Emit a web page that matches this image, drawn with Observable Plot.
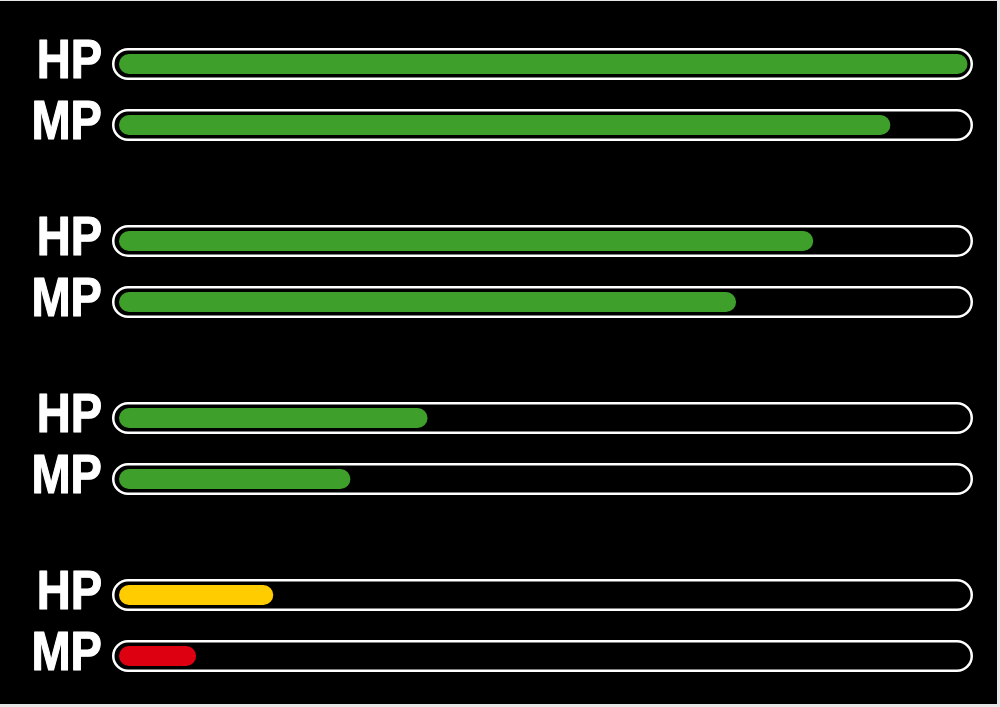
<!DOCTYPE html>
<html>
<head>
<meta charset="utf-8">
<script src="https://cdn.jsdelivr.net/npm/d3@7"></script>
<script src="https://cdn.jsdelivr.net/npm/@observablehq/plot@0.6"></script>
<style>
  html, body { margin: 0; padding: 0; background: #e6e6e6; }
  #chart { position: absolute; left: 0; top: 1px; width: 997px; height: 703px; background: #000; }
  #chart svg { display: block; }
</style>
</head>
<body>
<div id="chart"></div>
<script>
// ---- data ----
const groups = ["1", "2", "3", "4"];
const stats = ["HP", "MP"];
const hpValues = [11, 9, 4, 2];
const mpValues = [10, 8, 3, 1];
const hpStatus = ["ok", "ok", "ok", "warn"];
const mpStatus = ["ok", "ok", "ok", "critical"];
const maxValue = 11;

const statusDomain = ["ok", "warn", "critical"];
const statusColors = ["#3e9f2b", "#ffcc00", "#dc0010"];

const rows = [];
groups.forEach((g, i) => {
  rows.push({group: g, stat: "HP", value: hpValues[i], status: hpStatus[i], max: maxValue});
  rows.push({group: g, stat: "MP", value: mpValues[i], status: mpStatus[i], max: maxValue});
});

const labelFont = "'Liberation Sans', Arial, sans-serif";

const chart = Plot.plot({
  width: 997,
  height: 703,
  marginLeft: 119,
  marginRight: 29.5,
  marginTop: 32.5,
  marginBottom: 17.5,
  style: {background: "#000", overflow: "visible"},
  x: {domain: [0, maxValue], axis: null},
  y: {domain: stats, axis: null, padding: 0, round: false},
  fy: {domain: groups, axis: null, paddingInner: 0.3107, paddingOuter: 0, round: false, range: [32.5, 685.5]},
  color: {domain: statusDomain, range: statusColors},
  marks: [
    Plot.barX(rows, {
      x1: 0, x2: "max", y: "stat", fy: "group",
      fill: "none", stroke: "white", strokeWidth: 2.5,
      insetTop: 15.75, insetBottom: 15.75, insetLeft: -5.75, insetRight: -4.25,
      rx: 14.75
    }),
    Plot.barX(rows, {
      x1: 0, x2: "value", y: "stat", fy: "group",
      fill: "status",
      insetTop: 20.5, insetBottom: 20.5,
      rx: 10
    }),
    Plot.text(rows, {
      y: "stat", fy: "group", text: "stat",
      frameAnchor: "left", textAnchor: "end", lineAnchor: "bottom",
      dx: -17.5, dy: 13.5,
      fill: "white", stroke: "white", strokeWidth: 1.2,
      fontSize: 56, fontWeight: "bold", fontFamily: labelFont
    })
  ]
});
// condense the label glyphs (narrow bold face, like the reference)
d3.select(chart).selectAll("text").each(function () {
  const t = this.getAttribute("transform") || "";
  this.setAttribute("transform", t + " scale(0.84,1)");
});
document.getElementById("chart").appendChild(chart);
</script>
</body>
</html>
